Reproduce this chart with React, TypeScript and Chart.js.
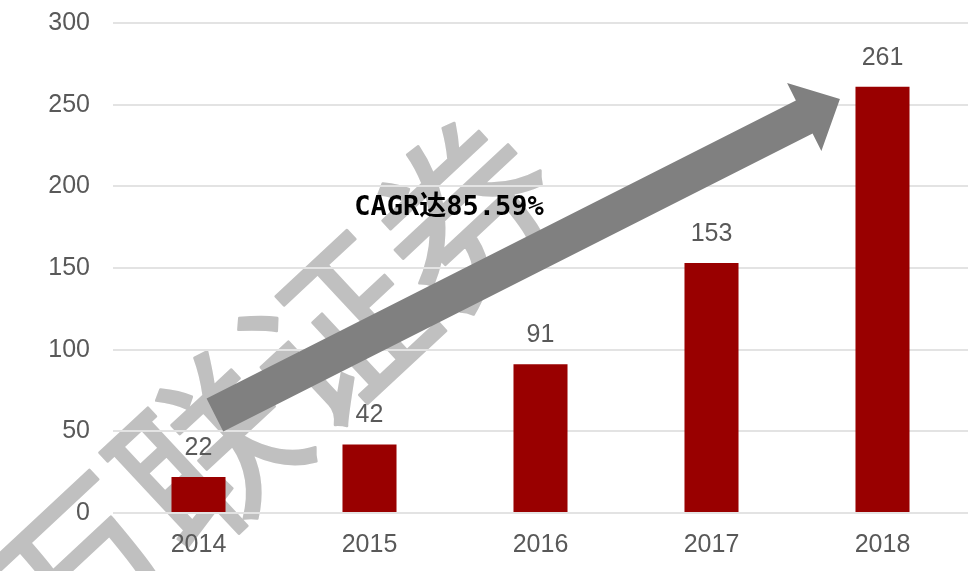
import React, { useEffect, useRef } from "react";
import { Chart, registerables } from "chart.js";

Chart.register(...registerables);

const categories = ["2014", "2015", "2016", "2017", "2018"];
const values = [22, 42, 91, 153, 261];
const yMin = 0;
const yMax = 300;
const yStep = 50;
const cagrLabel = "CAGR达85.59%";
const cagrAt = { index: 1.465, value: 186.7 };
const watermarkText = "万联证券";
const arrowFrom = { index: 0.096, value: 60 };
const arrowTo = { index: 3.751, value: 253.5 };

const TICK_COLOR = "#595959";
const TICK_FONT = "'Liberation Sans', Arial, sans-serif";

const watermarkPlugin = {
  id: "watermark",
  beforeDraw(chart: any) {
    const ctx = chart.ctx;
    ctx.save();
    ctx.translate(272, 392);
    ctx.rotate((-43 * Math.PI) / 180);
    ctx.font = "176px 'Noto Sans CJK SC'";
    ctx.fillStyle = "#c0c0c0";
    ctx.strokeStyle = "#c0c0c0";
    ctx.lineWidth = 2.5;
    ctx.lineJoin = "round";
    ctx.textAlign = "center";
    ctx.textBaseline = "middle";
    ctx.fillText(watermarkText, 0, 0);
    ctx.strokeText(watermarkText, 0, 0);
    ctx.restore();
  },
};

const overlayPlugin = {
  id: "overlay",
  afterDatasetsDraw(chart: any) {
    const ctx = chart.ctx;
    const xs = chart.scales.x;
    const ys = chart.scales.y;
    const meta = chart.getDatasetMeta(0);

    // value labels
    ctx.save();
    ctx.font = `25px ${TICK_FONT}`;
    ctx.fillStyle = TICK_COLOR;
    ctx.textAlign = "center";
    ctx.textBaseline = "middle";
    meta.data.forEach((bar: any, i: number) => {
      ctx.fillText(String(values[i]), bar.x, bar.y - 29);
    });
    ctx.restore();

    // arrow
    const x0 = xs.getPixelForValue(arrowFrom.index);
    const y0 = ys.getPixelForValue(arrowFrom.value);
    const x1 = xs.getPixelForValue(arrowTo.index);
    const y1 = ys.getPixelForValue(arrowTo.value);
    const dx = x1 - x0;
    const dy = y1 - y0;
    const len = Math.hypot(dx, dy);
    const ux = dx / len;
    const uy = dy / len;
    const nx = -uy;
    const ny = ux;
    const sh = 18.5;
    const hh = 38;
    const hl = 40;
    const bx = x1 - ux * hl;
    const by = y1 - uy * hl;
    ctx.save();
    ctx.fillStyle = "#808080";
    ctx.beginPath();
    ctx.moveTo(x0 + nx * sh, y0 + ny * sh);
    ctx.lineTo(bx + nx * sh, by + ny * sh);
    ctx.lineTo(bx + nx * hh, by + ny * hh);
    ctx.lineTo(x1, y1);
    ctx.lineTo(bx - nx * hh, by - ny * hh);
    ctx.lineTo(bx - nx * sh, by - ny * sh);
    ctx.lineTo(x0 - nx * sh, y0 - ny * sh);
    ctx.closePath();
    ctx.fill();
    ctx.restore();

    // CAGR text
    ctx.save();
    ctx.font = "bold 27px 'DejaVu Sans Mono', 'Noto Sans CJK SC'";
    ctx.fillStyle = "#000000";
    ctx.textAlign = "center";
    ctx.textBaseline = "middle";
    ctx.fillText(
      cagrLabel,
      xs.getPixelForValue(cagrAt.index),
      ys.getPixelForValue(cagrAt.value)
    );
    ctx.restore();
  },
};

export default function App() {
  const canvasRef = useRef<HTMLCanvasElement | null>(null);

  useEffect(() => {
    document.body.style.margin = "0";
    const canvas = canvasRef.current;
    if (!canvas) return;
    const chart = new Chart(canvas, {
      type: "bar",
      data: {
        labels: categories,
        datasets: [
          {
            data: values,
            backgroundColor: "#990000",
            borderWidth: 0,
            barPercentage: 0.316,
            categoryPercentage: 1.0,
          },
        ],
      },
      options: {
        animation: false,
        responsive: true,
        maintainAspectRatio: false,
        layout: { padding: { top: 23, left: 0, right: 0, bottom: 0 } },
        plugins: {
          legend: { display: false },
          tooltip: { enabled: false },
        },
        scales: {
          x: {
            grid: { display: false, drawTicks: false },
            border: { display: false },
            ticks: {
              color: TICK_COLOR,
              font: { family: TICK_FONT, size: 25 },
              padding: 17,
            },
            afterFit: (s: any) => {
              s.height = 58;
              s.paddingLeft = 0;
              s.paddingRight = 0;
            },
          },
          y: {
            min: yMin,
            max: yMax,
            grid: { color: "#e3e3e3", lineWidth: 2, drawTicks: false },
            border: { display: false },
            ticks: {
              stepSize: yStep,
              color: TICK_COLOR,
              font: { family: TICK_FONT, size: 25 },
              padding: 23,
            },
            afterFit: (s: any) => {
              s.width = 113;
              s.paddingTop = 0;
              s.paddingBottom = 0;
            },
          },
        },
      },
      plugins: [watermarkPlugin, overlayPlugin],
    });
    return () => chart.destroy();
  }, []);

  return (
    <div style={{ width: 968, height: 571, position: "relative" }}>
      <canvas ref={canvasRef} />
    </div>
  );
}
